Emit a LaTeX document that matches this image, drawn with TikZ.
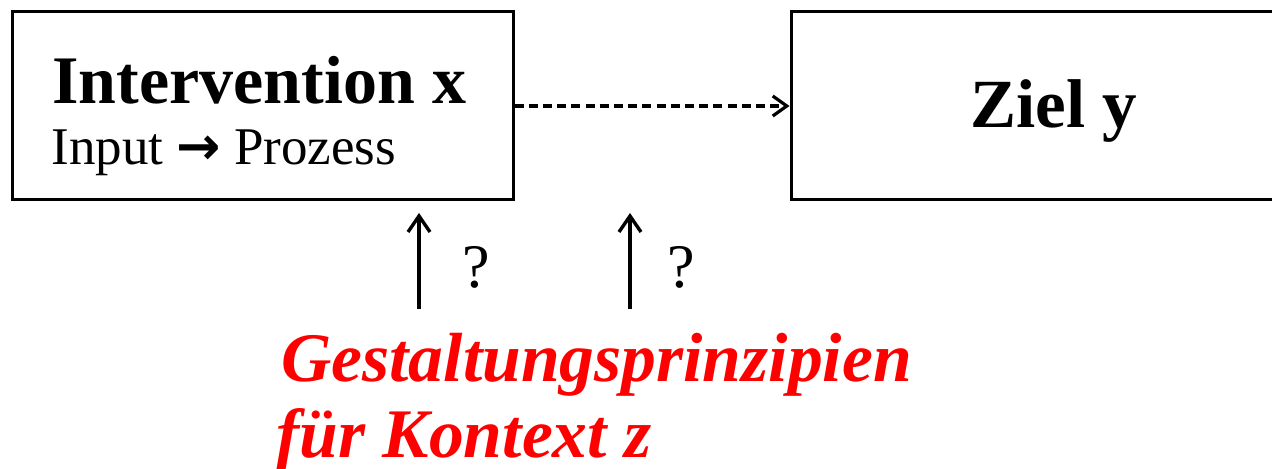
\documentclass[tikz,border=0pt]{standalone}
\usepackage{fontspec}
\setmainfont{Liberation Serif}
\newfontfamily\symfont{DejaVu Sans}
\usetikzlibrary{arrows.meta}
\definecolor{redtxt}{RGB}{255,0,0}
\tikzset{
  boxnode/.style={draw, line width=1.5pt, minimum width=250.5pt, minimum height=94pt, inner sep=0pt},
  txt/.style={anchor=base west, inner sep=0pt},
  uparrow/.style={line width=1.7pt, -{Straight Barb[length=8pt,width=11pt,line width=1.7pt]}},
  dasharrow/.style={line width=1.8pt, dash pattern=on 4.5pt off 2.6pt, -{Straight Barb[length=7pt,width=10pt,line width=1.6pt]}}
}
\begin{document}
\begin{tikzpicture}[x=0.5pt,y=-0.5pt]
\useasboundingbox (0,0) rectangle (1272,469);
\clip (0,0) rectangle (1272,469);
\node[boxnode] (lbox) at (262.5,106) {};
\node[boxnode, minimum width=260pt] (rbox) at (1051,106) {};
\node[txt, font=\fontsize{34}{40}\selectfont\bfseries] (t1) at (52,104) {Intervention x};
\node[txt, font=\fontsize{26.5}{30}\selectfont] (t2) at (51,165) {Input {\symfont\bfseries →} Prozess};
\node[txt, font=\fontsize{34.5}{40}\selectfont\bfseries] (t3) at (970,128) {Ziel y};
\draw[dasharrow] (lbox.east) -- (rbox.west);
\coordinate (a1s) at (419,309);
\coordinate (a1e) at (419,213);
\coordinate (a2s) at (630,309);
\coordinate (a2e) at (630,213);
\draw[uparrow] (a1s) -- (a1e);
\draw[uparrow] (a2s) -- (a2e);
\node[txt, font=\fontsize{31}{36}\selectfont] (q1) at (462,288) {?};
\node[txt, font=\fontsize{31}{36}\selectfont] (q2) at (667,288) {?};
\node[txt, font=\fontsize{34.8}{40}\selectfont\bfseries\itshape, text=redtxt] (r1) at (281,382) {Gestaltungsprinzipien};
\node[txt, font=\fontsize{34.8}{40}\selectfont\bfseries\itshape, text=redtxt] (r2) at (276,457) {für Kontext z};
\end{tikzpicture}
\end{document}
